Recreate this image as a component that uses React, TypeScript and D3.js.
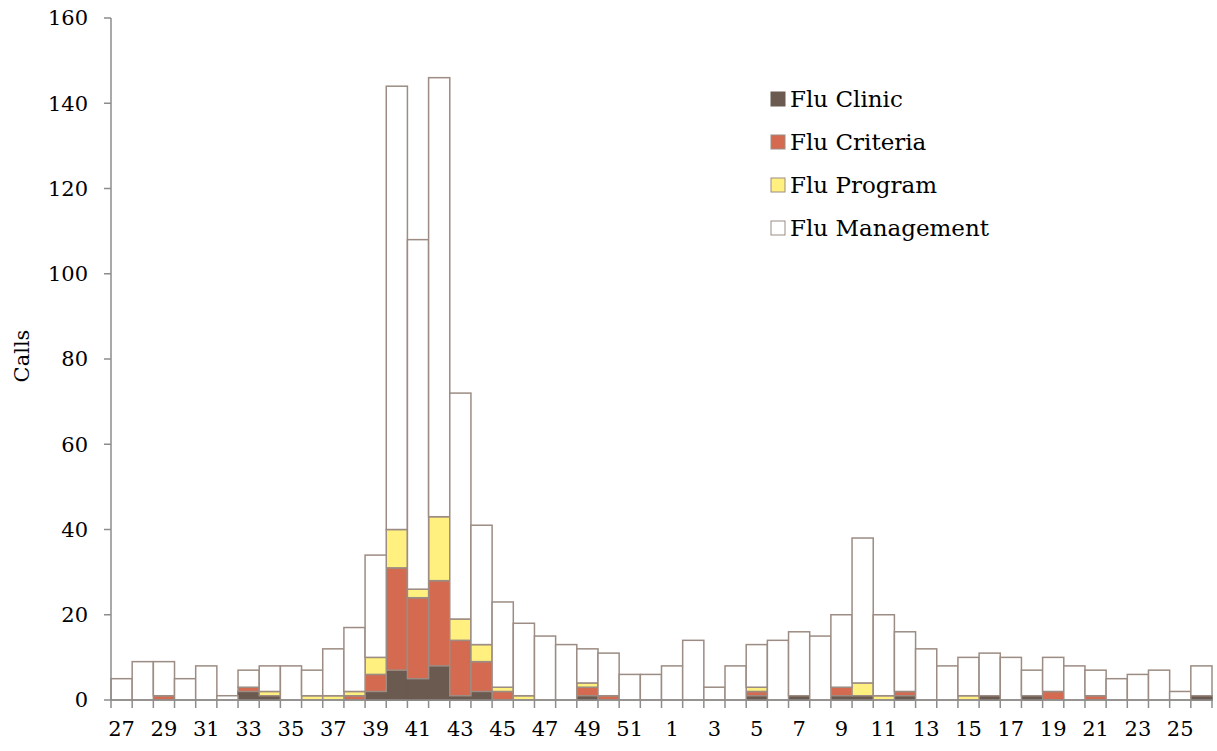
import React from "react";
import * as d3 from "d3";

const weeks = [27,28,29,30,31,32,33,34,35,36,37,38,39,40,41,42,43,44,45,46,47,48,49,50,51,52,1,2,3,4,5,6,7,8,9,10,11,12,13,14,15,16,17,18,19,20,21,22,23,24,25,26];
const fluClinic =     [0,0,0,0,0,0,2,1,0,0,0,0,2,7,5,8,1,2,0,0,0,0,1,0,0,0,0,0,0,0,1,0,1,0,1,1,0,1,0,0,0,1,0,1,0,0,0,0,0,0,0,1];
const fluCriteria =   [0,0,1,0,0,0,1,0,0,0,0,1,4,24,19,20,13,7,2,0,0,0,2,1,0,0,0,0,0,0,1,0,0,0,2,0,0,1,0,0,0,0,0,0,2,0,1,0,0,0,0,0];
const fluProgram =    [0,0,0,0,0,0,0,1,0,1,1,1,4,9,2,15,5,4,1,1,0,0,1,0,0,0,0,0,0,0,1,0,0,0,0,3,1,0,0,0,1,0,0,0,0,0,0,0,0,0,0,0];
const fluManagement = [5,9,8,5,8,1,4,6,8,6,11,15,24,104,82,103,53,28,20,17,15,13,8,10,6,6,8,14,3,8,10,14,15,15,17,34,19,14,12,8,9,10,10,6,8,8,6,5,6,7,2,7];
const seriesNames = ["Flu Clinic", "Flu Criteria", "Flu Program", "Flu Management"];
const seriesColors = ["#6b5a50", "#d46b50", "#fff07f", "#ffffff"];
const yTicks = [0, 20, 40, 60, 80, 100, 120, 140, 160];

const W = 1217, H = 751;
const left = 111, right = 1212, top = 18, bottom = 700;
const FONT = "'DejaVu Serif', serif";

export default function App() {
  const rows = weeks.map((w, i) => ({
    key: String(i),
    week: w,
    "Flu Clinic": fluClinic[i],
    "Flu Criteria": fluCriteria[i],
    "Flu Program": fluProgram[i],
    "Flu Management": fluManagement[i],
  }));
  const stacked = d3.stack<any>().keys(seriesNames)(rows);
  const x = d3.scaleBand<string>().domain(rows.map(r => r.key)).range([left, right]).padding(0);
  const y = d3.scaleLinear().domain([0, 160]).range([bottom, top]);
  const bw = x.bandwidth();

  return (
    <svg width={W} height={H} style={{ position: "absolute", left: 0, top: 0, background: "#fff" }} fontFamily={FONT}>
      {stacked.map((s, si) => (
        <g key={si}>
          {s.map((d, i) => {
            const v = d[1] - d[0];
            if (v <= 0) return null;
            return (
              <rect key={i} x={x(String(i))!} y={y(d[1])} width={bw} height={y(d[0]) - y(d[1])}
                fill={seriesColors[si]} stroke={si === 0 ? "#6b5a50" : "#9c8c83"} strokeWidth={1.5} />
            );
          })}
        </g>
      ))}
      {/* y axis */}
      <line x1={left} x2={left} y1={top} y2={bottom} stroke="#8c8c8c" strokeWidth={1.5} />
      {yTicks.map(t => (
        <g key={t}>
          <line x1={left - 7} x2={left} y1={y(t)} y2={y(t)} stroke="#8c8c8c" strokeWidth={1.5} />
          <text x={left - 23} y={y(t)} dy="0.35em" textAnchor="end" fontSize={21} fill="#000">{t}</text>
        </g>
      ))}
      {/* x axis */}
      <line x1={left} x2={right} y1={bottom} y2={bottom} stroke="#8c8c8c" strokeWidth={1.5} />
      {rows.map((r, i) => (
        <line key={"t" + i} x1={x(r.key)!} x2={x(r.key)!} y1={bottom} y2={bottom + 8} stroke="#8c8c8c" strokeWidth={1.5} />
      ))}
      <line x1={right} x2={right} y1={bottom} y2={bottom + 8} stroke="#8c8c8c" strokeWidth={1.5} />
      {rows.map((r, i) => i % 2 === 0 ? (
        <text key={"l" + i} x={x(r.key)! + bw / 2} y={736} textAnchor="middle" fontSize={21} fill="#000">{r.week}</text>
      ) : null)}
      <text transform={`translate(29, ${(top + bottom) / 2 - 3}) rotate(-90)`} textAnchor="middle" fontSize={21} fill="#000">Calls</text>
      {/* legend */}
      {seriesNames.map((n, i) => (
        <g key={n} transform={`translate(771, ${92 + i * 43})`}>
          <rect x={0} y={0} width={14} height={14} fill={seriesColors[i]} stroke={i === 0 ? "#6b5a50" : "#9c8c83"} strokeWidth={1} />
          <text x={19} y={7} dy="0.35em" fontSize={23} fill="#000">{n}</text>
        </g>
      ))}
    </svg>
  );
}
